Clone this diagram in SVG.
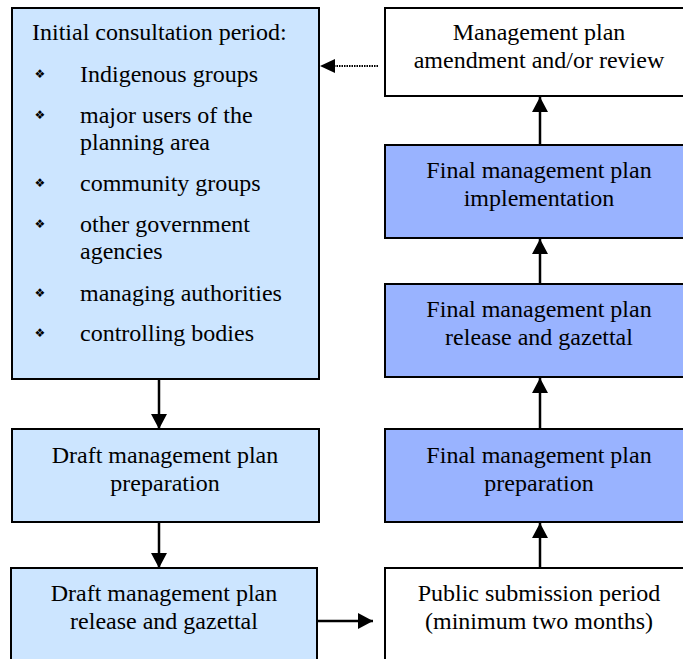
<svg xmlns="http://www.w3.org/2000/svg" width="683" height="659" viewBox="0 0 683 659">
<defs>
<style>
.box{stroke:#000;stroke-width:2}
.light{fill:#CCE5FF}
.dark{fill:#99B3FF}
.white{fill:#FFFFFF}
text{font-family:"Liberation Serif","Times New Roman",serif;font-size:24px;fill:#000}
.c{text-anchor:middle}
.b{font-family:"DejaVu Sans",sans-serif;font-size:12px;text-anchor:middle}
.conn{stroke:#000;stroke-width:2.5;fill:none}
.dot{stroke:#000;stroke-width:2;fill:none;stroke-dasharray:1.5 1}
</style>
<marker id="ah" markerUnits="userSpaceOnUse" markerWidth="16" markerHeight="16" refX="15" refY="8" orient="auto" viewBox="0 0 16 16">
<path d="M0,0 L15,8 L0,16 z" fill="#000"/>
</marker>
</defs>
<rect width="683" height="659" fill="#FFFFFF"/>
<g id="initial">
<rect class="box light" x="12" y="8" width="307" height="371"/>
<text x="32" y="40">Initial consultation period:</text>
<text class="b" x="40" y="78">❖</text><text x="80" y="82">Indigenous groups</text>
<text class="b" x="40" y="119">❖</text><text x="80" y="123">major users of the</text><text x="80" y="150">planning area</text>
<text class="b" x="40" y="187">❖</text><text x="80" y="191">community groups</text>
<text class="b" x="40" y="228">❖</text><text x="80" y="232">other government</text><text x="80" y="259">agencies</text>
<text class="b" x="40" y="297">❖</text><text x="80" y="301">managing authorities</text>
<text class="b" x="40" y="337">❖</text><text x="80" y="341">controlling bodies</text>
</g>
<g id="draft-prep">
<rect class="box light" x="12" y="429" width="307" height="93"/>
<text class="c" x="165" y="463">Draft management plan</text>
<text class="c" x="165" y="491">preparation</text>
</g>
<g id="draft-release">
<rect class="box light" x="11" y="568" width="306" height="110"/>
<text class="c" x="164" y="601">Draft management plan</text>
<text class="c" x="164" y="629">release and gazettal</text>
</g>
<g id="public">
<rect class="box white" x="385" y="568" width="320" height="110"/>
<text class="c" x="539" y="601">Public submission period</text>
<text class="c" x="539" y="629">(minimum two months)</text>
</g>
<g id="final-prep">
<rect class="box dark" x="385" y="429" width="320" height="93"/>
<text class="c" x="539" y="463">Final management plan</text>
<text class="c" x="539" y="491">preparation</text>
</g>
<g id="final-release">
<rect class="box dark" x="385" y="284" width="320" height="93"/>
<text class="c" x="539" y="317">Final management plan</text>
<text class="c" x="539" y="345">release and gazettal</text>
</g>
<g id="final-impl">
<rect class="box dark" x="385" y="145" width="320" height="93"/>
<text class="c" x="539" y="178">Final management plan</text>
<text class="c" x="539" y="206">implementation</text>
</g>
<g id="amendment">
<rect class="box white" x="385" y="8" width="320" height="88"/>
<text class="c" x="539" y="40">Management plan</text>
<text class="c" x="539" y="68">amendment and/or review</text>
</g>
<g id="connectors">
<line class="conn" x1="159" y1="380" x2="159" y2="429" marker-end="url(#ah)"/>
<line class="conn" x1="159" y1="523" x2="159" y2="568" marker-end="url(#ah)"/>
<line class="conn" x1="318" y1="621" x2="373" y2="621" marker-end="url(#ah)"/>
<line class="conn" x1="540" y1="567" x2="540" y2="523" marker-end="url(#ah)"/>
<line class="conn" x1="540" y1="428" x2="540" y2="378" marker-end="url(#ah)"/>
<line class="conn" x1="540" y1="283" x2="540" y2="239" marker-end="url(#ah)"/>
<line class="conn" x1="540" y1="144" x2="540" y2="97" marker-end="url(#ah)"/>
<line class="dot" x1="378" y1="66" x2="333" y2="66"/>
<path d="M320,66 L335,59 L335,73 z" fill="#000"/>
</g>
</svg>
